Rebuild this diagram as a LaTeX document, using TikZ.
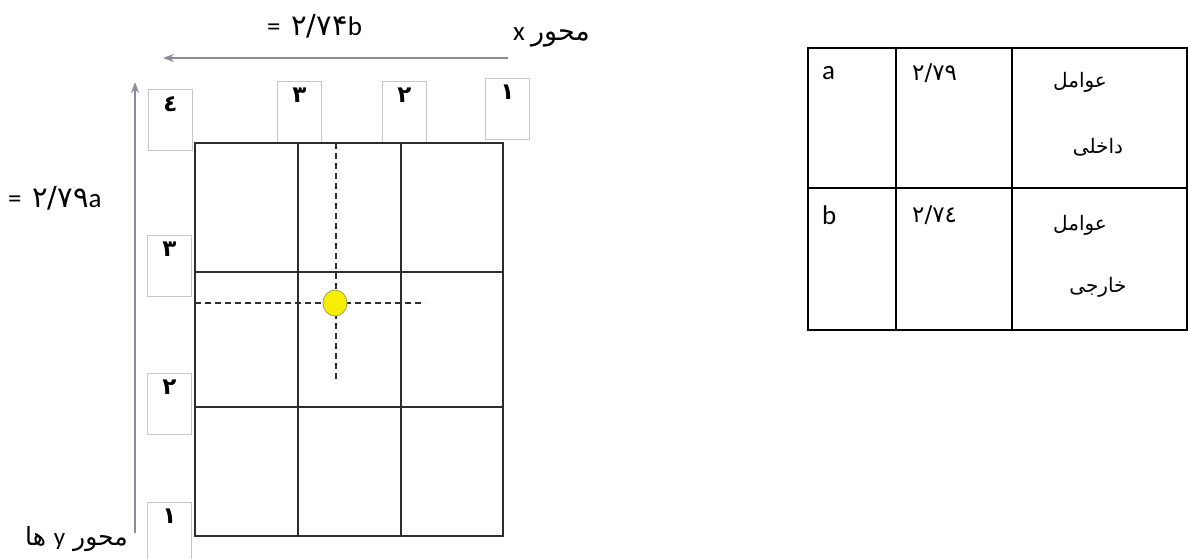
\documentclass[tikz,border=0pt]{standalone}
\usepackage{fontspec}
\setmainfont{Carlito}
\newfontfamily\arabicfont[Script=Arabic]{DejaVu Sans}
\TeXXeTstate=1
\usetikzlibrary{arrows.meta}
\definecolor{axisgray}{RGB}{140,140,156}
\definecolor{gridgray}{RGB}{45,45,45}
\definecolor{boxgray}{RGB}{200,200,200}
\definecolor{dotyellow}{RGB}{246,240,0}
\definecolor{dotedge}{RGB}{160,160,90}
\begin{document}
\begin{tikzpicture}[x=1pt,y=-1pt,
	lbl/.style={font=\fontsize{27}{30}\selectfont, inner sep=0pt},
	artext/.style={font=\fontsize{20}{24}\arabicfont, inner sep=0pt},
	tabnum/.style={font=\fontsize{23}{26}\arabicfont, inner sep=0pt},
	axis/.style={draw=axisgray, line width=1.3pt, -{Stealth[length=11pt,width=8pt]}},
	gridline/.style={draw=gridgray, line width=1.6pt},
	guide/.style={draw=gridgray, line width=1.1pt, dash pattern=on 6pt off 4pt},
	tabline/.style={draw=black, line width=2.4pt},
	numbox/.style={draw=boxgray, fill=white, line width=0.8pt, minimum width=44pt, minimum height=61pt, inner sep=0pt, anchor=north west},
	digit/.style={font=\fontsize{23}{24}\arabicfont\bfseries, inner sep=0pt, anchor=north, yshift=-7pt}]
\useasboundingbox (0,0) rectangle (1188,558);

% axes
\coordinate (xstart) at (508,58);
\coordinate (xend) at (163,58);
\coordinate (ystart) at (135,533);
\coordinate (yend) at (135,82);
\draw[axis] (xstart) -- (xend);
\draw[axis] (ystart) -- (yend);
\path
	(267,35) node[lbl, anchor=base west] (bvalue) {= \,{\arabicfont\fontsize{29}{30}\selectfont ٢/٧۴}b}
	(513,40) node[lbl, anchor=base west] (xname) {x {\arabicfont\beginR محور\endR}}
	(8,207) node[lbl, anchor=base west] (avalue) {= \,{\arabicfont\fontsize{29}{30}\selectfont ٢/٧٩}a}
	(25,545) node[lbl, anchor=base west, font=\fontsize{25}{28}\selectfont] (yname) {\arabicfont\beginR محور {\normalfont y} ها\endR};

% number boxes
\path
	(148,89) node[numbox, label={[digit]north:٤}] (top4) {}
	(277,81) node[numbox, label={[digit]north:٣}] (top3) {}
	(382,81) node[numbox, label={[digit]north:٢}] (top2) {}
	(485,78) node[numbox, label={[digit]north:١}] (top1) {}
	(147,235) node[numbox, label={[digit]north:٣}] (side3) {}
	(147,373) node[numbox, label={[digit]north:٢}] (side2) {}
	(147,502) node[numbox, label={[digit]north:١}] (side1) {};

% grid
\draw[gridline] (195,143) rectangle (503,536);
\draw[gridline] (298,143) -- (298,536) (401,143) -- (401,536);
\draw[gridline] (195,272) -- (503,272) (195,407) -- (503,407);
\draw[guide] (336,143) -- (336,383);
\draw[guide] (195,303) -- (425,303);
\path[fill=dotyellow, draw=dotedge, line width=0.8pt] (335,303) ellipse [x radius=12, y radius=13];

% table
\draw[tabline] (808,48) rectangle (1187,330);
\draw[tabline] (896,48) -- (896,330) (1012,48) -- (1012,330) (808,188) -- (1187,188);
\path
	(822,73) node[lbl, anchor=west] (tabA) {a}
	(822,215) node[lbl, anchor=west] (tabB) {b}
	(912,73) node[tabnum, anchor=west] (valA) {٢/٧٩}
	(912,215) node[tabnum, anchor=west] (valB) {٢/٧٤}
	(1080,82) node[artext] (inner1) {\beginR عوامل\endR}
	(1098,147) node[artext] (inner2) {\beginR داخلی\endR}
	(1080,225) node[artext] (outer1) {\beginR عوامل\endR}
	(1098,287) node[artext] (outer2) {\beginR خارجی\endR};
\end{tikzpicture}
\end{document}
